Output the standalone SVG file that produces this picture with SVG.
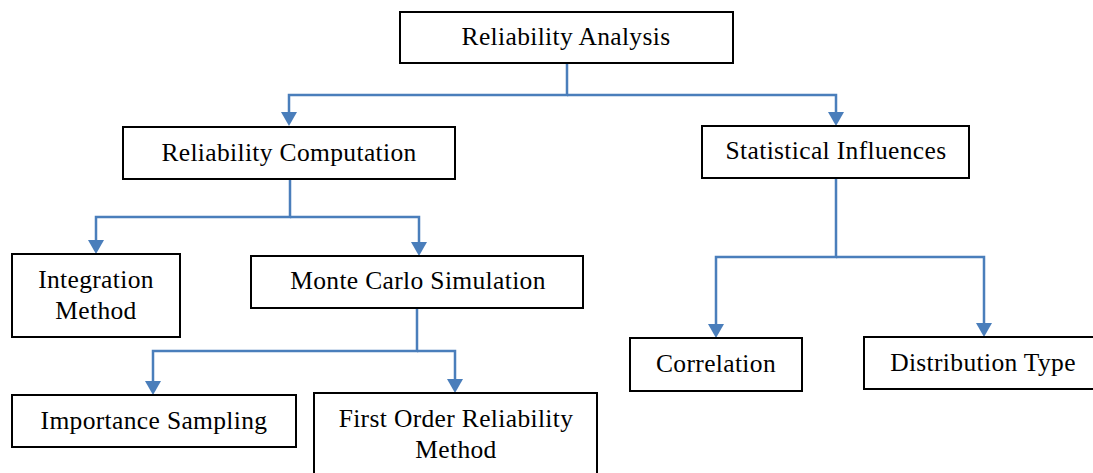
<svg xmlns="http://www.w3.org/2000/svg" width="1093" height="473" viewBox="0 0 1093 473">
<style>
.box{fill:#fff;stroke:#000;stroke-width:2}
.lbl{font-family:"Liberation Serif","Times New Roman",serif;font-size:25.5px;letter-spacing:0.35px;fill:#000;text-anchor:middle}
.con{fill:none;stroke:#4a7ebb;stroke-width:2.5;marker-end:url(#ah)}
</style>
<defs>
<marker id="ah" markerUnits="userSpaceOnUse" markerWidth="14" markerHeight="16" viewBox="0 0 14 16" refX="6" refY="8" orient="auto">
<path d="M0,0 L14,8 L0,16 z" fill="#4a7ebb"/>
</marker>
</defs>
<rect width="1093" height="473" fill="#fff"/>
<g id="connectors">
<path class="con" d="M567,63 V95 H289 V118"/>
<path class="con" d="M567,95 H836 V118"/>
<path class="con" d="M290,179 V217 H96 V246"/>
<path class="con" d="M290,217 H419 V248"/>
<path class="con" d="M417,308 V351 H153 V387"/>
<path class="con" d="M417,351 H455 V385"/>
<path class="con" d="M836,178 V257 H716 V330"/>
<path class="con" d="M836,257 H984 V329"/>
</g>
<g id="n-reliability-analysis"><rect class="box" x="400" y="12" width="333" height="51"/><text class="lbl" x="566" y="45">Reliability Analysis</text></g>
<g id="n-reliability-computation"><rect class="box" x="123" y="127" width="332" height="52"/><text class="lbl" x="289" y="161">Reliability Computation</text></g>
<g id="n-statistical-influences"><rect class="box" x="702" y="126" width="267" height="52"/><text class="lbl" x="836" y="159">Statistical Influences</text></g>
<g id="n-integration-method"><rect class="box" x="12" y="254" width="168" height="83"/><text class="lbl" x="96" y="288">Integration</text><text class="lbl" x="96" y="319">Method</text></g>
<g id="n-monte-carlo"><rect class="box" x="251" y="256" width="332" height="52"/><text class="lbl" x="418" y="289">Monte Carlo Simulation</text></g>
<g id="n-importance-sampling"><rect class="box" x="12" y="395" width="284" height="52"/><text class="lbl" x="154" y="429">Importance Sampling</text></g>
<g id="n-form"><rect class="box" x="314" y="393" width="283" height="90"/><text class="lbl" x="456" y="427">First Order Reliability</text><text class="lbl" x="456" y="458">Method</text></g>
<g id="n-correlation"><rect class="box" x="630" y="338" width="172" height="53"/><text class="lbl" x="716" y="372">Correlation</text></g>
<g id="n-distribution-type"><rect class="box" x="864" y="337" width="240" height="52"/><text class="lbl" x="983" y="371">Distribution Type</text></g>
</svg>
